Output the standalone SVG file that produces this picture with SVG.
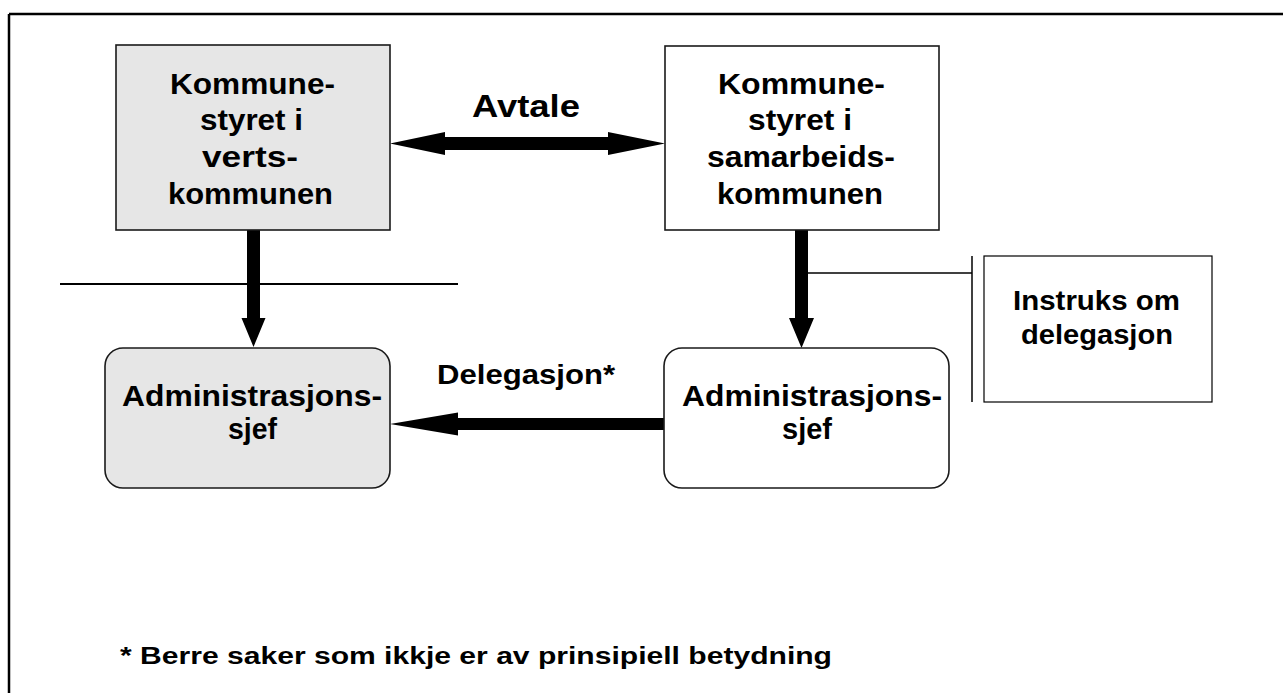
<svg xmlns="http://www.w3.org/2000/svg" width="1283" height="693" viewBox="0 0 1283 693">
  <style>
    .box { stroke: #1a1a1a; stroke-width: 1.6; }
    .grey { fill: #e6e6e6; }
    .white { fill: #ffffff; }
    .t { font-family: "Liberation Sans", Arial, sans-serif; font-weight: bold; fill: #000; }
    .big { font-size: 29.5px; }
    .mid { font-size: 27px; }
    .arrow { fill: #000; }
    .thin { stroke: #000; stroke-width: 1.5; fill: none; }
  </style>
  <rect width="1283" height="693" fill="#fff"/>
  <g id="frame">
    <line x1="9" y1="14" x2="1283" y2="14" stroke="#000" stroke-width="2.5"/>
    <line x1="9" y1="14" x2="9" y2="693" stroke="#000" stroke-width="2.5"/>
    <line x1="60" y1="284" x2="458" y2="284" stroke="#000" stroke-width="2"/>
  </g>
  <g id="connectors">
    <polygon class="arrow" points="390,143.5 445,132 445,137 608,137 608,132 665,143.5 608,155 608,150 445,150 445,155"/>
    <polygon class="arrow" points="247,230 260,230 260,318 265.5,318 253.5,347 241.5,318 247,318"/>
    <polygon class="arrow" points="795,230 808,230 808,318 814,318 801.5,348 789,318 795,318"/>
    <polygon class="arrow" points="665,418 665,430 458,430 458,435.5 390,424 458,412.5 458,418"/>
    <polyline class="thin" points="808,273 972,273"/>
    <line class="thin" x1="972" y1="256" x2="972" y2="402"/>
  </g>
  <g id="label-avtale">
    <text class="t" x="472" y="117" font-size="31" textLength="108" lengthAdjust="spacingAndGlyphs">Avtale</text>
  </g>
  <g id="label-delegasjon">
    <text class="t mid" x="437" y="384" textLength="178" lengthAdjust="spacingAndGlyphs">Delegasjon*</text>
  </g>
  <g id="node-verts">
    <rect class="box grey" x="116" y="45" width="274" height="185"/>
    <text class="t big" x="170" y="94" textLength="165" lengthAdjust="spacingAndGlyphs">Kommune-</text>
    <text class="t big" x="200" y="130" textLength="103" lengthAdjust="spacingAndGlyphs">styret i</text>
    <text class="t big" x="202" y="167" textLength="96" lengthAdjust="spacingAndGlyphs">verts-</text>
    <text class="t big" x="168" y="204" textLength="165" lengthAdjust="spacingAndGlyphs">kommunen</text>
  </g>
  <g id="node-samarbeid">
    <rect class="box white" x="665" y="46" width="274" height="184"/>
    <text class="t big" x="718" y="94" textLength="167" lengthAdjust="spacingAndGlyphs">Kommune-</text>
    <text class="t big" x="748" y="130" textLength="104" lengthAdjust="spacingAndGlyphs">styret i</text>
    <text class="t big" x="707" y="167" textLength="188" lengthAdjust="spacingAndGlyphs">samarbeids-</text>
    <text class="t big" x="717" y="204" textLength="166" lengthAdjust="spacingAndGlyphs">kommunen</text>
  </g>
  <g id="node-admin-verts">
    <rect class="box grey" x="105" y="348" width="285" height="140" rx="18" ry="18"/>
    <text class="t big" x="122" y="406" textLength="260" lengthAdjust="spacingAndGlyphs">Administrasjons-</text>
    <text class="t big" x="228" y="439" textLength="49" lengthAdjust="spacingAndGlyphs">sjef</text>
  </g>
  <g id="node-admin-samarbeid">
    <rect class="box white" x="664" y="348" width="285" height="140" rx="18" ry="18"/>
    <text class="t big" x="682" y="406" textLength="260" lengthAdjust="spacingAndGlyphs">Administrasjons-</text>
    <text class="t big" x="782" y="439" textLength="50" lengthAdjust="spacingAndGlyphs">sjef</text>
  </g>
  <g id="node-instruks">
    <rect x="984" y="256" width="228" height="146" fill="#fff" stroke="#000" stroke-width="1.2"/>
    <text class="t mid" x="1013" y="310" textLength="167" lengthAdjust="spacingAndGlyphs">Instruks om</text>
    <text class="t mid" x="1021" y="344" textLength="152" lengthAdjust="spacingAndGlyphs">delegasjon</text>
  </g>
  <g id="footnote">
    <text class="t" x="120" y="664" font-size="23" textLength="712" lengthAdjust="spacingAndGlyphs">* Berre saker som ikkje er av prinsipiell betydning</text>
  </g>
</svg>
